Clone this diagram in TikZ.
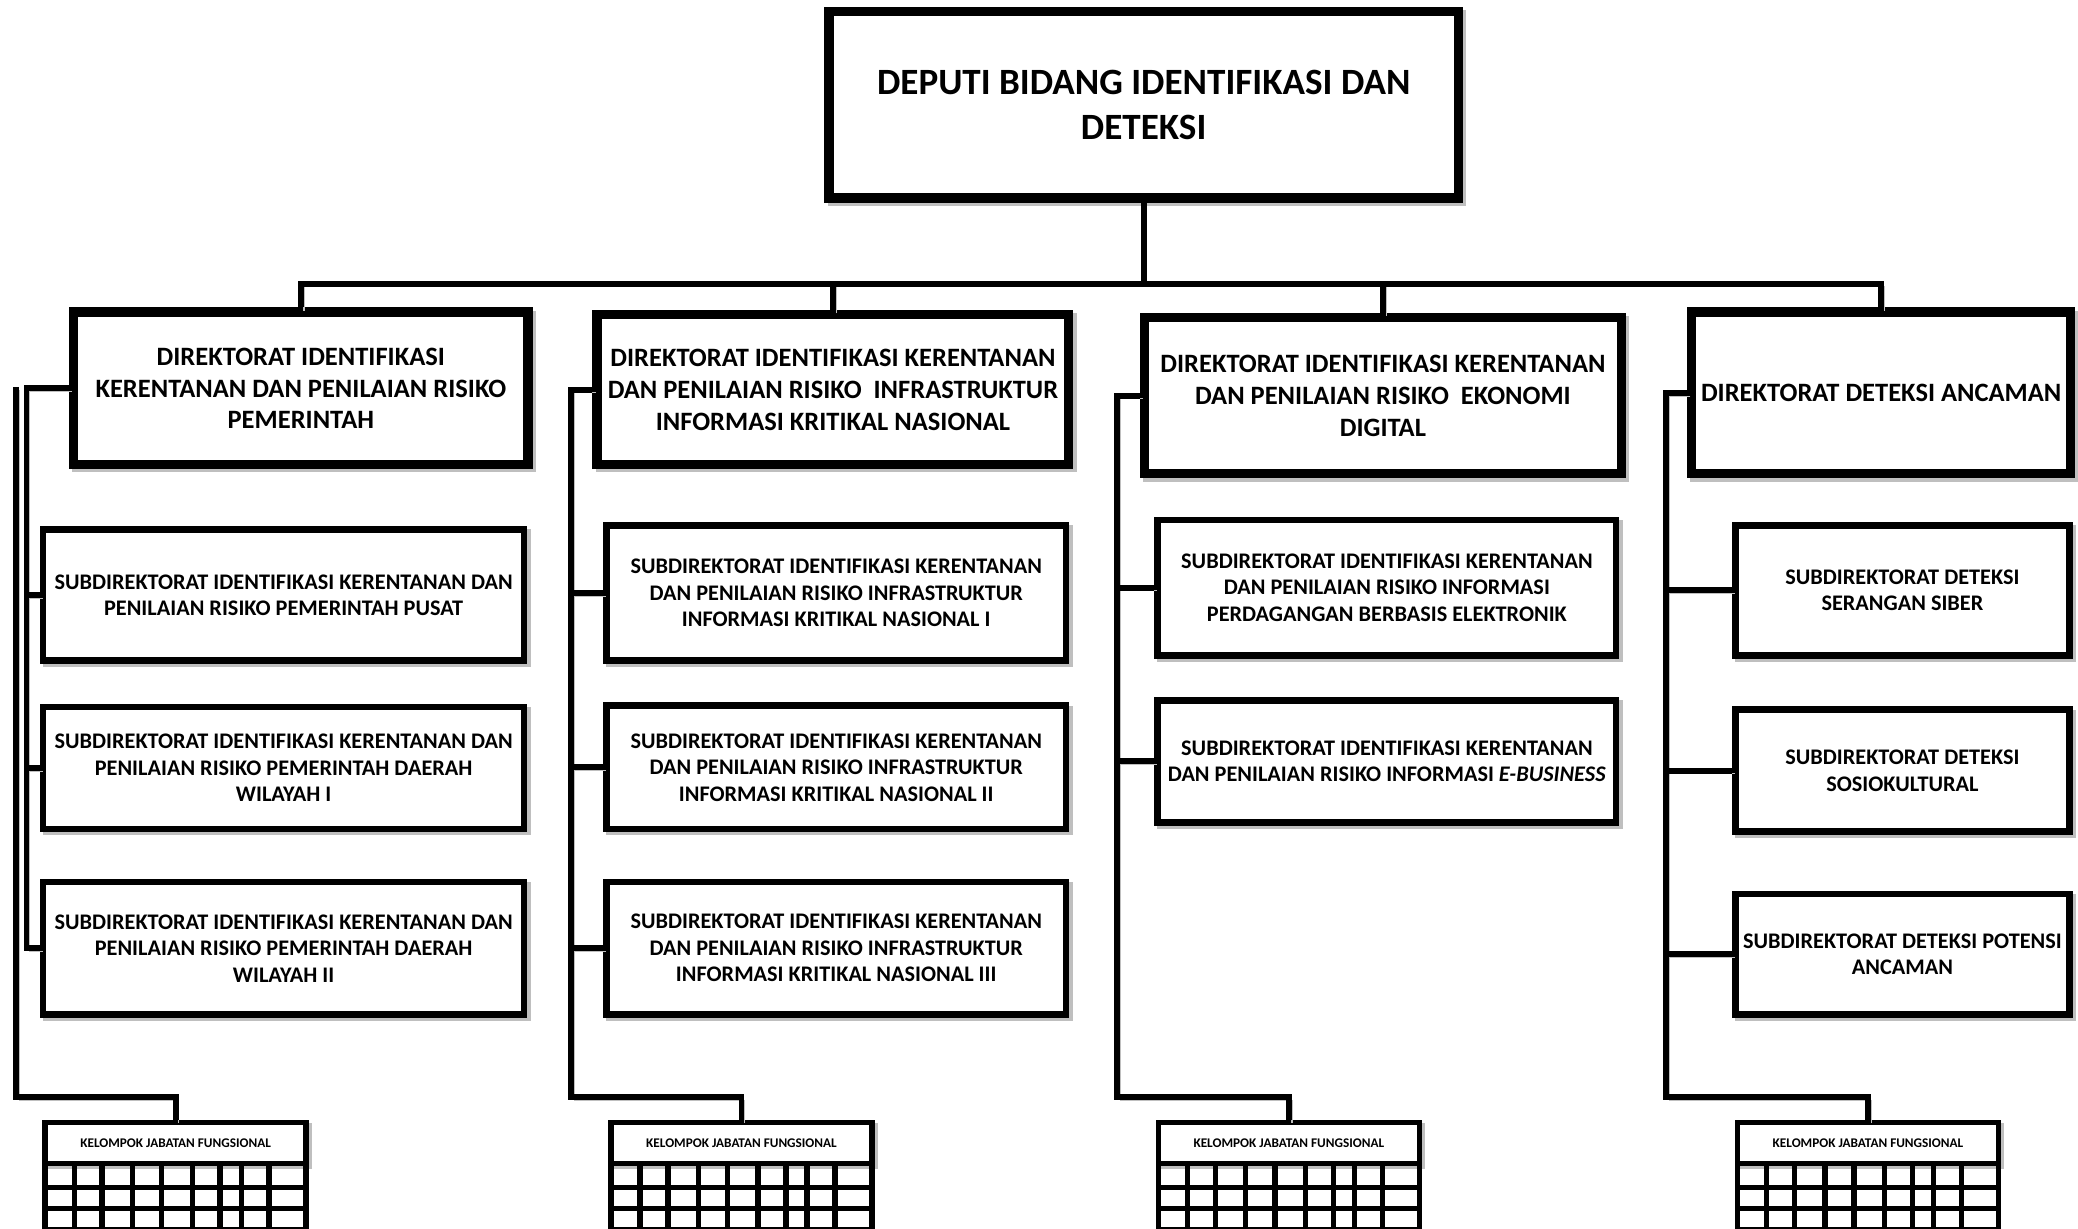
\documentclass[tikz,border=0pt]{standalone}
\usepackage{fontspec}
\setmainfont{Carlito}
\usepackage{tikz}
\usetikzlibrary{positioning,calc}

\begin{document}
\begin{tikzpicture}[
    x=0.5pt, y=-0.5pt,
    every node/.style={font=\bfseries},
    softshadow/.style={
        preaction={draw=black!25, transform canvas={shift={(1.2pt,-1.2pt)}}}
    },
    deputi/.style={
        draw,
        rectangle,
        fill=white,
        softshadow,
        line width=3.5pt,
        align=center,
        inner sep=0pt,
        font=\bfseries\fontsize{14}{17}\selectfont
    },
    direktorat/.style={
        draw,
        rectangle,
        fill=white,
        softshadow,
        line width=3.5pt,
        align=center,
        inner sep=0pt,
        font=\bfseries\fontsize{10}{12}\selectfont
    },
    subdir/.style={
        draw,
        rectangle,
        fill=white,
        softshadow,
        line width=2.5pt,
        align=center,
        inner sep=0pt,
        font=\bfseries\fontsize{8.4}{10}\selectfont
    },
    kjf/.style={
        draw,
        rectangle,
        fill=white,
        softshadow,
        line width=2pt,
        align=center,
        inner sep=0pt,
        minimum width=98.5pt,
        minimum height=15.5pt,
        font=\bfseries\fontsize{5}{6}\selectfont
    },
    conn/.style={line width=2.2pt, softshadow},
    gridline/.style={line width=2pt}
]

\useasboundingbox (0,0) rectangle (1568,927);
\clip (0,0) rectangle (1568,927);

% ==========================================================
% DEPUTI
% ==========================================================
\node[deputi, minimum width=237.5pt, minimum height=70.5pt] (top) at (863,79)
    {DEPUTI BIDANG IDENTIFIKASI DAN\\DETEKSI};

% ==========================================================
% DIREKTORAT
% ==========================================================
\node[direktorat, minimum width=171.5pt, minimum height=57.5pt] (dir1) at (227,293)
    {DIREKTORAT IDENTIFIKASI\\KERENTANAN DAN PENILAIAN RISIKO\\PEMERINTAH};
\node[direktorat, minimum width=178pt, minimum height=56.5pt] (dir2) at (628.5,294)
    {DIREKTORAT IDENTIFIKASI KERENTANAN\\DAN PENILAIAN RISIKO \ INFRASTRUKTUR\\INFORMASI KRITIKAL NASIONAL};
\node[direktorat, minimum width=180pt, minimum height=59pt] (dir3) at (1043.5,298.5)
    {DIREKTORAT IDENTIFIKASI KERENTANAN\\DAN PENILAIAN RISIKO \ EKONOMI\\DIGITAL};
\node[direktorat, minimum width=143pt, minimum height=61pt] (dir4) at (1419.5,296.5)
    {DIREKTORAT DETEKSI ANCAMAN};

% ==========================================================
% SUBDIREKTORAT
% ==========================================================
\node[subdir, minimum width=181.5pt, minimum height=49.5pt] (s11) at (214,449)
    {SUBDIREKTORAT IDENTIFIKASI KERENTANAN DAN\\PENILAIAN RISIKO PEMERINTAH PUSAT};
\node[subdir, minimum width=181.5pt, minimum height=46pt, below=15pt of s11] (s12)
    {SUBDIREKTORAT IDENTIFIKASI KERENTANAN DAN\\PENILAIAN RISIKO PEMERINTAH DAERAH\\WILAYAH I};
\node[subdir, minimum width=181.5pt, minimum height=50pt, below=17.5pt of s12] (s13)
    {SUBDIREKTORAT IDENTIFIKASI KERENTANAN DAN\\PENILAIAN RISIKO PEMERINTAH DAERAH\\WILAYAH II};

\node[subdir, minimum width=173.5pt, minimum height=51pt] (s21) at (631,447.5)
    {SUBDIREKTORAT IDENTIFIKASI KERENTANAN\\DAN PENILAIAN RISIKO INFRASTRUKTUR\\INFORMASI KRITIKAL NASIONAL I};
\node[subdir, minimum width=173.5pt, minimum height=46.5pt, below=14.5pt of s21] (s22)
    {SUBDIREKTORAT IDENTIFIKASI KERENTANAN\\DAN PENILAIAN RISIKO INFRASTRUKTUR\\INFORMASI KRITIKAL NASIONAL II};
\node[subdir, minimum width=173.5pt, minimum height=50pt, below=17.5pt of s22] (s23)
    {SUBDIREKTORAT IDENTIFIKASI KERENTANAN\\DAN PENILAIAN RISIKO INFRASTRUKTUR\\INFORMASI KRITIKAL NASIONAL III};

\node[subdir, minimum width=173pt, minimum height=51pt] (s31) at (1046.5,443.5)
    {SUBDIREKTORAT IDENTIFIKASI KERENTANAN\\DAN PENILAIAN RISIKO INFORMASI\\PERDAGANGAN BERBASIS ELEKTRONIK};
\node[subdir, minimum width=173pt, minimum height=46pt, below=14.5pt of s31] (s32)
    {SUBDIREKTORAT IDENTIFIKASI KERENTANAN\\DAN PENILAIAN RISIKO INFORMASI \textit{E-BUSINESS}};

\node[subdir, minimum width=126pt, minimum height=49pt] (s41) at (1435.5,445.5)
    {SUBDIREKTORAT DETEKSI\\SERANGAN SIBER};
\node[subdir, minimum width=126pt, minimum height=46pt, below=18pt of s41] (s42)
    {SUBDIREKTORAT DETEKSI\\SOSIOKULTURAL};
\node[subdir, minimum width=126pt, minimum height=45.5pt, below=21pt of s42] (s43)
    {SUBDIREKTORAT DETEKSI POTENSI\\ANCAMAN};

% ==========================================================
% KELOMPOK JABATAN FUNGSIONAL
% ==========================================================
\node[kjf] (kjf1) at (132.5,862.5) {KELOMPOK JABATAN FUNGSIONAL};
\node[kjf] (kjf2) at (559.5,862.5) {KELOMPOK JABATAN FUNGSIONAL};
\node[kjf] (kjf3) at (972.5,862.5) {KELOMPOK JABATAN FUNGSIONAL};
\node[kjf] (kjf4) at (1409.5,862.5) {KELOMPOK JABATAN FUNGSIONAL};

\foreach \k in {kjf1,kjf2,kjf3,kjf4} {
    \begin{scope}[shift={(\k.south west)}]
        \foreach \gx in {2,24,45,68,90,113,134,150,171,199}
            \draw[gridline] (\gx,0) -- (\gx,70);
        \foreach \gy in {16,32,48}
            \draw[gridline] (1,\gy) -- (200,\gy);
    \end{scope}
}

% ==========================================================
% CONNECTIONS
% ==========================================================
\coordinate (bus) at (863,214);
\coordinate (sp1) at (20,0);
\coordinate (kt1) at (12,292);
\coordinate (kv1) at (12,828);
\coordinate (sp2) at (431,0);
\coordinate (kv2) at (431,828);
\coordinate (sp3) at (843,0);
\coordinate (kv3) at (843,828);
\coordinate (sp4) at (1257,0);
\coordinate (kv4) at (1257,828);

% Deputi
\draw[conn] (top.south) -- (bus);
\draw[conn] (dir1.north) |- (bus) -| (dir4.north);
\draw[conn] (dir2.north) -- (dir2.north |- bus);
\draw[conn] (dir3.north) -- (dir3.north |- bus);

% Kolom 1
\draw[conn] (kt1) -- (kv1) -| (kjf1.north);
\draw[conn] (dir1.west) -| (sp1 |- s13.west) -- (s13.west);
\draw[conn] (sp1 |- s11.west) -- (s11.west);
\draw[conn] (sp1 |- s12.west) -- (s12.west);

% Kolom 2
\draw[conn] (dir2.west) -| (kv2) -| (kjf2.north);
\draw[conn] (sp2 |- s21.west) -- (s21.west);
\draw[conn] (sp2 |- s22.west) -- (s22.west);
\draw[conn] (sp2 |- s23.west) -- (s23.west);

% Kolom 3
\draw[conn] (dir3.west) -| (kv3) -| (kjf3.north);
\draw[conn] (sp3 |- s31.west) -- (s31.west);
\draw[conn] (sp3 |- s32.west) -- (s32.west);

% Kolom 4
\draw[conn] (dir4.west) -| (kv4) -| (kjf4.north);
\draw[conn] (sp4 |- s41.west) -- (s41.west);
\draw[conn] (sp4 |- s42.west) -- (s42.west);
\draw[conn] (sp4 |- s43.west) -- (s43.west);

\end{tikzpicture}
\end{document}
